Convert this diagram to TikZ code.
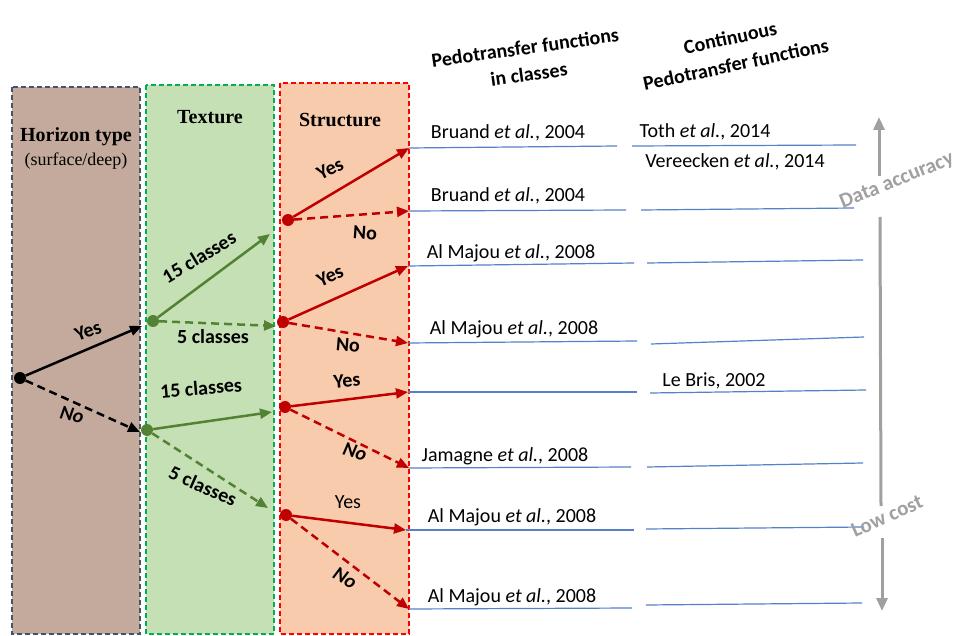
\documentclass[tikz,border=0pt]{standalone}
\usepackage{fontspec}
\setmainfont{Carlito}
\newfontfamily\tnr{Liberation Serif}
\usetikzlibrary{arrows.meta}
\definecolor{brownfill}{RGB}{196,170,157}
\definecolor{brownedge}{RGB}{68,84,106}
\definecolor{greenfill}{RGB}{197,224,180}
\definecolor{greenedge}{RGB}{0,176,80}
\definecolor{orangefill}{RGB}{248,203,173}
\definecolor{orangeedge}{RGB}{255,0,0}
\definecolor{darkgreen}{RGB}{84,130,53}
\definecolor{darkred}{RGB}{192,0,0}
\definecolor{bluel}{RGB}{84,128,204}
\definecolor{axisgray}{RGB}{160,160,160}
\begin{document}
\begin{tikzpicture}[x=1pt,y=-1pt,
  panel/.style={line width=1.8pt, dash pattern=on 5pt off 3pt},
  dot/.style={circle, inner sep=0pt, minimum size=12pt},
  arr/.style={line width=2.5pt, -{Triangle[length=12pt,width=10pt]}},
  dsh/.style={arr, dash pattern=on 8pt off 5pt},
  lbl/.style={font=\fontsize{20}{24}\selectfont\bfseries, inner sep=0pt},
  lbli/.style={font=\fontsize{20}{24}\selectfont\bfseries\itshape, inner sep=0pt},
  lblr/.style={font=\fontsize{20}{24}\selectfont, inner sep=0pt},
  cite/.style={font=\fontsize{20}{24}\selectfont, inner sep=0pt},
  hdr/.style={font=\fontsize{20}{27}\selectfont\bfseries, align=center, inner sep=0pt},
  ttl/.style={font=\fontsize{20}{24}\selectfont\tnr\bfseries, inner sep=0pt},
  ptf/.style={draw=bluel, line width=1.2pt},
  axis/.style={draw=axisgray, line width=3pt},
  axtip/.style={axis, -{Triangle[length=13pt,width=11pt]}},
  axlbl/.style={font=\fontsize{21}{24}\selectfont\bfseries, text=axisgray, inner sep=0pt}
]
\clip (0,0) rectangle (961,636);
\fill[white] (0,0) rectangle (961,636);

% panels
\draw[panel, fill=brownfill, draw=brownedge] (12,87) rectangle (140,634);
\draw[panel, fill=greenfill, draw=greenedge] (146,85) rectangle (274,634);
\draw[panel, fill=orangefill, draw=orangeedge] (280,83) rectangle (409,634);

% panel titles
\node[ttl] (ht) at (76,137) {Horizon type};
\node[font=\fontsize{18}{22}\selectfont\tnr, inner sep=0pt] (hs) at (76,161) {(surface/deep)};
\node[ttl] (tx) at (210,117) {Texture};
\node[ttl] (st) at (340,120) {Structure};

% headers
\node[hdr, rotate=8] (h1) at (527,61) {Pedotransfer functions\\in classes};
\node[hdr, rotate=12] (h2) at (733,51) {Continuous\\Pedotransfer functions};

% endpoints
\coordinate (bY) at (142,326);
\coordinate (bN) at (140,432);
\coordinate (g1a) at (270,234);
\coordinate (g1b) at (276,326);
\coordinate (g2a) at (272,412);
\coordinate (g2b) at (268,508);
\coordinate (e1) at (409,148);
\coordinate (e2) at (409,211);
\coordinate (e3) at (408,266);
\coordinate (e4) at (408,343);
\coordinate (e5) at (408,392);
\coordinate (e6) at (409,468);
\coordinate (e7) at (406,530);
\coordinate (e8) at (409,609);

% dots
\node[dot, fill=black] (b0) at (20,378) {};
\node[dot, fill=darkgreen] (g1) at (153,321) {};
\node[dot, fill=darkgreen] (g2) at (147,430) {};
\node[dot, fill=darkred] (r1) at (288,220) {};
\node[dot, fill=darkred] (r2) at (283,322) {};
\node[dot, fill=darkred] (r3) at (285,407) {};
\node[dot, fill=darkred] (r4) at (286,515) {};

% horizon arrows
\draw[arr, black] (b0) -- (bY);
\draw[dsh, black] (b0) -- (bN);
\node[lbl, rotate=21] (lbY) at (88,331) {Yes};
\node[lbli, rotate=-12] (lbN) at (72,415) {No};

% texture arrows
\draw[arr, darkgreen] (g1) -- (g1a);
\draw[dsh, darkgreen] (g1) -- (g1b);
\draw[arr, darkgreen] (g2) -- (g2a);
\draw[dsh, darkgreen] (g2) -- (g2b);
\node[lbl, rotate=31] (lg1a) at (199,257) {15 classes};
\node[lbl] (lg1b) at (213,337) {5 classes};
\node[lbl, rotate=5] (lg2a) at (201,388) {15 classes};
\node[lbl, rotate=-24] (lg2b) at (203,486) {5 classes};

% structure arrows
\draw[arr, darkred] (r1) -- (e1);
\draw[dsh, darkred] (r1) -- (e2);
\draw[arr, darkred] (r2) -- (e3);
\draw[dsh, darkred] (r2) -- (e4);
\draw[arr, darkred] (r3) -- (e5);
\draw[dsh, darkred] (r3) -- (e6);
\draw[arr, darkred] (r4) -- (e7);
\draw[dsh, darkred] (r4) -- (e8);
\node[lbl, rotate=27] (lr1y) at (330,169) {Yes};
\node[lbl, rotate=-4] (lr1n) at (365,233) {No};
\node[lbl, rotate=25] (lr2y) at (330,276) {Yes};
\node[lbl, rotate=-5] (lr2n) at (348,345) {No};
\node[lbl, rotate=5] (lr3y) at (347,381) {Yes};
\node[lbli, rotate=-16] (lr3n) at (355,452) {No};
\node[lblr] (lr4y) at (348,502) {Yes};
\node[lbli, rotate=-30] (lr4n) at (345,578) {No};

% PTF lines
\coordinate (p1a) at (617,146); \coordinate (q1a) at (632,146); \coordinate (q1b) at (856,145);
\coordinate (p2a) at (626,210); \coordinate (q2a) at (641,210); \coordinate (q2b) at (854,208);
\coordinate (p3a) at (634,263); \coordinate (q3a) at (647,263); \coordinate (q3b) at (863,260);
\coordinate (p4a) at (637,341); \coordinate (q4a) at (651,344); \coordinate (q4b) at (864,337);
\coordinate (p5a) at (637,392); \coordinate (q5a) at (650,393); \coordinate (q5b) at (866,390);
\coordinate (p6a) at (631,467); \coordinate (q6a) at (647,467); \coordinate (q6b) at (863,463);
\coordinate (p7a) at (634,530); \coordinate (q7a) at (646,529); \coordinate (q7b) at (864,527);
\coordinate (p8a) at (632,608); \coordinate (q8a) at (646,605); \coordinate (q8b) at (862,603);
\foreach \i in {1,...,8} {
  \draw[ptf] (e\i) -- (p\i a);
  \draw[ptf] (q\i a) -- (q\i b);
}

% citations
\node[cite] (c1) at (508,133) {Bruand \textit{et al.}, 2004};
\node[cite] (c1b) at (705,132) {Toth \textit{et al.}, 2014};
\node[cite] (c1c) at (735,162) {Vereecken \textit{et al.}, 2014};
\node[cite] (c2) at (508,196) {Bruand \textit{et al.}, 2004};
\node[cite] (c3) at (511,253) {Al Majou \textit{et al.}, 2008};
\node[cite] (c4) at (514,329) {Al Majou \textit{et al.}, 2008};
\node[cite] (c5) at (714,381) {Le Bris, 2002};
\node[cite] (c6) at (505,456) {Jamagne \textit{et al.}, 2008};
\node[cite] (c7) at (512,517) {Al Majou \textit{et al.}, 2008};
\node[cite] (c8) at (512,597) {Al Majou \textit{et al.}, 2008};

% axis
\coordinate (ax1) at (879,176);
\coordinate (ax1t) at (879,117);
\coordinate (ax2) at (880,217);
\coordinate (ax3) at (881,506);
\coordinate (ax4) at (882,538);
\coordinate (ax4t) at (882,611);
\draw[axtip] (ax1) -- (ax1t);
\draw[axis] (ax2) -- (ax3);
\draw[axtip] (ax4) -- (ax4t);
\node[axlbl, rotate=22] (da) at (897,181) {Data accuracy};
\node[axlbl, rotate=24] (lc) at (887,516) {Low cost};
\end{tikzpicture}
\end{document}
